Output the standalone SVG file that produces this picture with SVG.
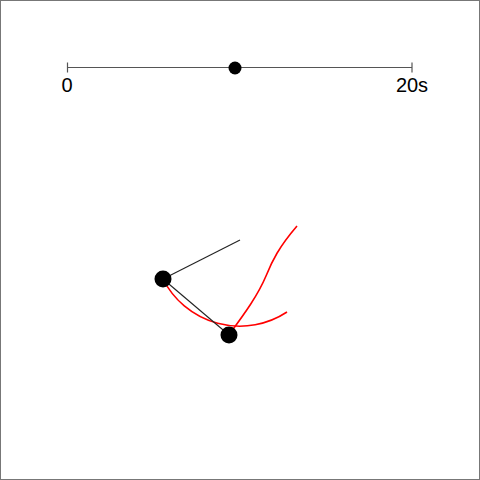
<svg xmlns="http://www.w3.org/2000/svg" width="480" height="480" viewBox="0 0 480 480">
<style>
.axis{stroke:#555;stroke-width:1.2;fill:none}
.lbl{font-family:"Liberation Sans",Arial,sans-serif;font-size:20px;fill:#000}
.rod{stroke:#222;stroke-width:1.1;fill:none}
.trail{stroke:#f00;stroke-width:1.6;fill:none}
.mass{fill:#000}
</style>
<rect x="0.5" y="0.5" width="479" height="479" fill="#fff" stroke="#777" stroke-width="1"/>
<g id="timeline">
<line class="axis" x1="67.5" y1="67.5" x2="412" y2="67.5"/>
<line class="axis" x1="67.5" y1="62.5" x2="67.5" y2="72.5"/>
<line class="axis" x1="412" y1="62.5" x2="412" y2="72.5"/>
<circle class="mass" cx="235" cy="68" r="6.5"/>
<text class="lbl" x="67" y="92" text-anchor="middle">0</text>
<text class="lbl" x="412" y="92" text-anchor="middle">20s</text>
</g>
<g id="trails">
<path class="trail" d="M163,279 A86,86 0 0 0 287,312"/>
<path class="trail" d="M231,332 C245,313 258,295 266,276 C272,261 279,247 297,226"/>
</g>
<g id="connectors">
<line class="rod" x1="240" y1="240" x2="163" y2="279"/>
<line class="rod" x1="163" y1="279" x2="229" y2="335"/>
</g>
<g id="mass1"><circle class="mass" cx="163" cy="279" r="8.5"/></g>
<g id="mass2"><circle class="mass" cx="229" cy="335" r="8.5"/></g>
</svg>
